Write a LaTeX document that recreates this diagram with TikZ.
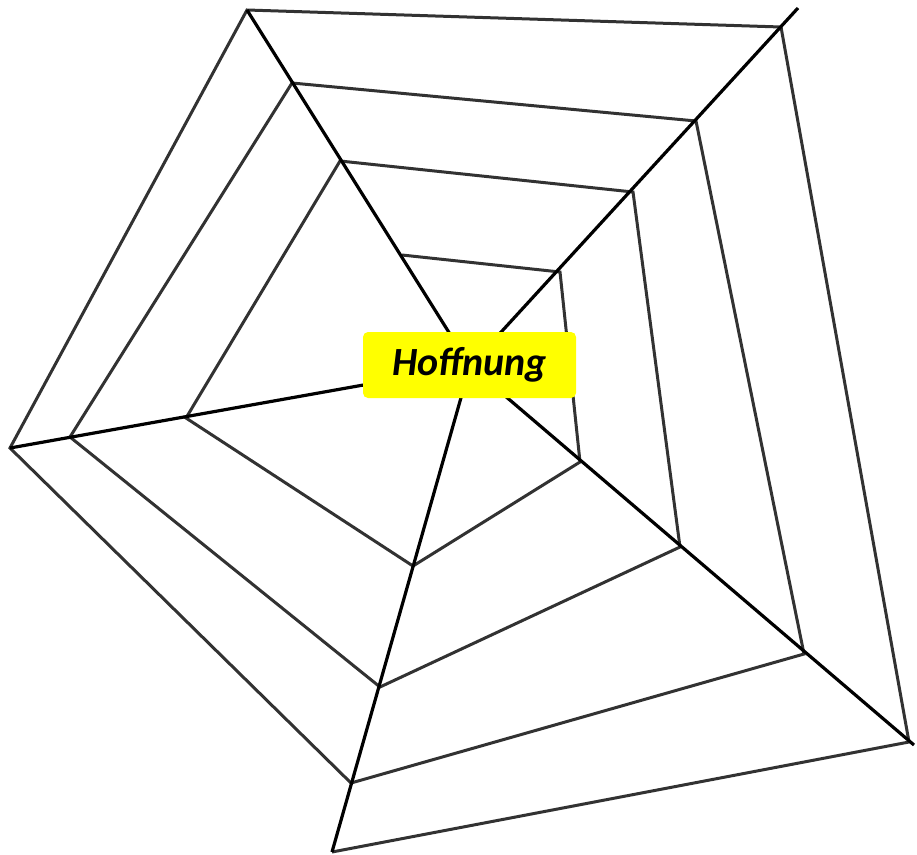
\documentclass[tikz,border=0pt]{standalone}
\usepackage{fontspec}
\setmainfont{Carlito}
\definecolor{webgray}{RGB}{50,50,50}
\definecolor{labelyellow}{RGB}{255,255,0}
\tikzset{
  spoke/.style={draw=black, line width=3.2pt},
  thread/.style={draw=webgray, line width=3pt},
  label/.style={fill=labelyellow, rounded corners=5pt, minimum width=213pt, minimum height=66pt, inner sep=0pt, font=\fontsize{40}{42}\selectfont\bfseries\itshape}
}
\begin{document}
\begin{tikzpicture}[x=1pt,y=-1pt]
\useasboundingbox (0,0) rectangle (917,854);
% center
\coordinate (c) at (470,366);
% spoke ends
\coordinate (eTL) at (247,10);
\coordinate (eTR) at (798,8);
\coordinate (eBR) at (914,745);
\coordinate (eB) at (332,852);
\coordinate (eL) at (10,448);
% spiral vertices
\coordinate (v1) at (332,852);
\coordinate (v2) at (909,742);
\coordinate (v3) at (781,27);
\coordinate (v4) at (247,10);
\coordinate (v5) at (10,448);
\coordinate (v6) at (351,783);
\coordinate (v7) at (804,654);
\coordinate (v8) at (696,121);
\coordinate (v9) at (292,83);
\coordinate (v10) at (70,437);
\coordinate (v11) at (380,687);
\coordinate (v12) at (680,547);
\coordinate (v13) at (633,192);
\coordinate (v14) at (340,161);
\coordinate (v15) at (186,418);
\coordinate (v16) at (413,566);
\coordinate (v17) at (580,462);
\coordinate (v18) at (560,272);
\coordinate (v19) at (402,255);
% spiral thread
\draw[thread] (v1) -- (v2) -- (v3) -- (v4) -- (v5) -- (v6) -- (v7) -- (v8) -- (v9) -- (v10) -- (v11) -- (v12) -- (v13) -- (v14) -- (v15) -- (v16) -- (v17) -- (v18) -- (v19);
% spokes
\draw[spoke] (c) -- (eTL);
\draw[spoke] (c) -- (eTR);
\draw[spoke] (c) -- (eBR);
\draw[spoke] (c) -- (eB);
\draw[spoke] (c) -- (eL);
% label
\node[label] (hope) at (469.5,365) {Hoffnung};
\end{tikzpicture}
\end{document}
